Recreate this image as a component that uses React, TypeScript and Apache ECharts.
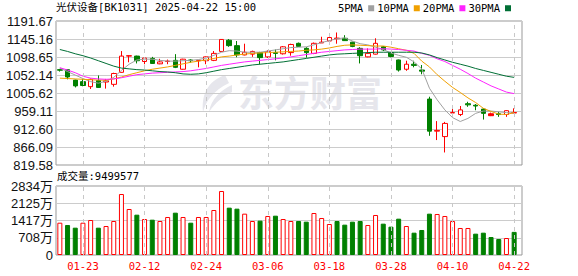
import React, { useEffect, useRef } from 'react';
import * as echarts from 'echarts';

// ---------- data ----------
const dates = ['01-20','01-21','01-22','01-23','01-24','01-27','02-05','02-06','02-07','02-10','02-11','02-12','02-13','02-14','02-17','02-18','02-19','02-20','02-21','02-24','02-25','02-26','02-27','02-28','03-03','03-04','03-05','03-06','03-07','03-10','03-11','03-12','03-13','03-14','03-17','03-18','03-19','03-20','03-21','03-24','03-25','03-26','03-27','03-28','03-31','04-01','04-02','04-03','04-07','04-08','04-09','04-10','04-11','04-14','04-15','04-16','04-17','04-18','04-21','04-22'];
const labelDates = ['01-23','02-12','02-24','03-06','03-18','03-28','04-10','04-22'];

const opens  = [1066,1066,1039,1035,1022,1038,1034,1028,1059,1101, 1101,1087,1095,1081,1087,1090,1067,1091,1089,1089, 1090,1113,1142,1128,1104,1106,1110,1099,1110,1107, 1110,1134,1121,1108,1135,1140,1146,1147,1137,1121, 1099,1106,1125,1110,1091,1067,1080,1065,990,907, 893,954,950,978,974,964,947,952,950,954];
const closes = [1064.5,1047,1024,1025,1041,1020,1037,1056,1101,1102, 1089,1096,1082,1086,1088,1072,1093,1089,1090,1099, 1108,1144,1128,1104,1111,1113,1097,1113,1108,1125, 1131,1126,1110,1134,1137,1149,1147.5,1141,1126,1102, 1108,1134,1117,1100,1065,1080,1077,1062,907,909, 927,955,962,975,972,953,952,950,960,955];
const lows   = [1061,1041,1020,1023,1016,1019,1017,1022,1058,1085, 1082,1080,1081,1080,1080,1070,1066,1084,1072,1080, 1088,1112,1125,1098,1103,1099,1080,1096,1090,1105, 1102,1125,1097,1106,1135,1130,1133,1140,1124,1082, 1098,1105,1114,1098,1061,1063,1072,1054,895,884, 852,954,946,970,961,937,946,944,944,954];
const highs  = [1068,1067,1040,1042,1043,1051,1042,1058,1114,1103, 1102,1097,1099,1094,1092,1106,1094,1093,1091,1100, 1114,1145,1145,1140,1133,1115,1112,1116,1118,1127, 1133,1136,1124,1136,1151,1151,1162,1155,1138,1124, 1121,1147,1127,1111,1092,1089,1089,1078,996,933, 931,970,972,983,977,966,955,957,961,966];

const ma5  = [1070,1061,1052,1043,1035,1031,1036,1046,1064,1080, 1091,1093,1093,1090,1088,1088,1089,1090,1092,1096, 1103,1111,1115,1114,1111,1111,1111,1114,1117,1120, 1123,1124,1125,1130,1136,1141,1146,1148,1140,1133, 1130,1124,1118,1109,1103,1098,1086,1068,1018,988, 962,942,932,940,953,959,959,957,955,954];
const ma10 = [1044,1043,1042,1041,1040,1039,1039,1042,1047,1053, 1058,1063,1067,1070,1073,1077,1081,1085,1088,1091, 1095,1099,1101,1104,1106,1108,1109,1110,1111,1112, 1113,1114,1116,1117,1119,1122,1126,1129,1130,1129, 1128,1127,1127,1124,1120,1116,1108,1088,1073,1053, 1036,1020,1007,993,981,966,958,951,950,955];
const ma20 = [1071,1065,1058,1049,1044,1042,1041,1042,1045,1049, 1053,1055,1057,1058,1059,1060,1061,1063,1066,1069, 1073,1077,1080,1083,1086,1088,1090,1092,1094,1096, 1099,1102,1105,1108,1111,1113,1115,1117,1118,1119, 1119,1119,1120,1119,1118,1116,1114,1108,1103,1094, 1087,1077,1067,1056,1044,1034,1024,1016,1008,1004];
const ma30 = [1118,1113,1107,1102,1096,1089,1082,1075,1070,1068, 1066,1065,1063,1061,1060,1058,1055,1054,1055,1058, 1062,1066,1069,1072,1075,1078,1080,1082,1084,1086, 1089,1092,1095,1098,1101,1104,1106,1107,1108,1109, 1110,1111,1111,1111,1111,1111,1111,1109,1104,1097, 1091,1085,1080,1075,1069,1064,1059,1054,1049,1046];

// volume in 万
const volumes = [1327,1232,1122,1327,1437,1122,1191,1396,2505,1889, 1656,1478,1451,1396,1561,1738,1561,1327,1561,1561, 1848,2628,1944,1903,1698,1396,1410,1602,1615,1478, 1396,1396,1369,1725,1520,1273,1396,1246,1369,1396, 1232,1643,1287,1164,1492,1191,917,1027,1698,1684, 1602,1396,1109,1109,876,917,739,657,698,950];

const priceTicks = [819.58, 866.09, 912.60, 959.11, 1005.62, 1052.14, 1098.65, 1145.16, 1191.67];
const volTicks = [0, 708, 1417, 2125, 2834];
const volTickLabels = ['0', '708万', '1417万', '2125万', '2834万'];

const titleText = '光伏设备[BK1031] 2025-04-22 15:00';
const volumeText = '成交量:9499577';
const maNames = ['5PMA', '10PMA', '20PMA', '30PMA'];

// ---------- style ----------
const RED = '#ff0000';
const GREEN = '#008000';
const MA_COLORS = ['#a0a0a0', '#f0a000', '#ff22ff', '#006f35'];
const MONO = "'DejaVu Sans Mono', 'Noto Sans CJK SC', monospace";
const SANS = "'Liberation Sans', 'Noto Sans CJK SC', sans-serif";
const WM = '#e6e6ec';

const LOGO_D = 'M27 0 C13 5 3 16 5 37 C8 26 15 16 31 8 Z M34 10 C23 15 13 24 11 37 C17 28 25 21 34 17 Z';
echarts.graphic.registerShape('emLogo', echarts.graphic.extendPath(LOGO_D, {}) as any);

function nearestLabel(v: number, ticks: number[], labels?: string[], digits = 2) {
  let best = 0;
  for (let i = 1; i < ticks.length; i++) if (Math.abs(ticks[i] - v) < Math.abs(ticks[best] - v)) best = i;
  return labels ? labels[best] : ticks[best].toFixed(digits);
}

function buildOption() {
  const pMin = priceTicks[0];
  const pMax = priceTicks[priceTicks.length - 1];
  const pStep = (pMax - pMin) / (priceTicks.length - 1);
  const vMax = volTicks[volTicks.length - 1];
  const vStep = vMax / (volTicks.length - 1);

  const candleData = dates.map((_, i) => {
    const value = [opens[i], closes[i], lows[i], highs[i]];
    // up candle that still closed below the previous close is drawn filled
    if (i > 0 && closes[i] >= opens[i] && closes[i] < closes[i - 1]) {
      return { value, itemStyle: { color: RED } };
    }
    return value;
  });
  const volData = volumes.map((v, i) => {
    const up = i === 0 ? true : closes[i] >= closes[i - 1];
    return {
      value: v,
      itemStyle: up
        ? { color: '#ffffff', borderColor: RED, borderWidth: 1 }
        : { color: GREEN, borderColor: GREEN, borderWidth: 1 },
    };
  });

  const vLines = {
    silent: true,
    symbol: ['none', 'none'],
    label: { show: false },
    lineStyle: { color: '#c8c8c8', type: [4, 4], width: 1 },
    emphasis: { disabled: true },
    data: labelDates.map((d) => ({ xAxis: d })),
  };

  const mas = [ma5, ma10, ma20, ma30];

  return {
    animation: false,
    backgroundColor: '#ffffff',
    title: [
      { text: titleText, left: 56, top: 2, padding: 0, textStyle: { fontFamily: MONO, fontSize: 10.5, fontWeight: 'normal', color: '#000' } },
      { text: volumeText, left: 57, top: 171, padding: 0, textStyle: { fontFamily: MONO, fontSize: 10.5, fontWeight: 'normal', color: '#000' } },
    ],
    legend: {
      data: maNames,
      right: 67,
      top: 3,
      align: 'right',
      icon: 'rect',
      itemWidth: 6,
      itemHeight: 6,
      itemGap: 3,
      padding: 0,
      selectedMode: false,
      textStyle: { fontFamily: MONO, fontSize: 10.5, color: '#000' },
    },
    graphic: [
      { type: 'emLogo', x: 198, y: 75, z: -1, silent: true, style: { fill: WM } },
      { type: 'text', x: 238, y: 73, z: -1, silent: true, style: { text: '东方财富', fill: WM, fontSize: 36, fontWeight: 'bold', fontFamily: "'Noto Sans CJK SC'" } },
    ],
    grid: [
      { left: 56, top: 21, width: 466, height: 144, show: true, borderColor: '#999', borderWidth: 1, backgroundColor: 'transparent' },
      { left: 56, top: 21, width: 462, height: 144 },
      { left: 56, top: 186, width: 466, height: 69, show: true, borderColor: '#999', borderWidth: 1, backgroundColor: 'transparent' },
      { left: 56, top: 186, width: 462, height: 69 },
    ],
    xAxis: [
      { gridIndex: 0, type: 'category', data: dates, show: false },
      { gridIndex: 1, type: 'category', data: dates, axisLine: { show: false }, axisTick: { show: false }, axisLabel: { show: false }, splitLine: { show: false } },
      { gridIndex: 2, type: 'category', data: dates, show: false },
      {
        gridIndex: 3, type: 'category', data: dates,
        axisLine: { show: false }, axisTick: { show: false }, splitLine: { show: false },
        axisLabel: {
          show: true, color: RED, fontFamily: MONO, fontSize: 10.5, margin: 6,
          interval: (index: number) => labelDates.indexOf(dates[index]) >= 0,
        },
      },
    ],
    yAxis: [
      {
        gridIndex: 0, type: 'value', min: pMin, max: pMax, interval: pStep,
        axisLine: { show: false }, axisTick: { show: false },
        splitLine: { show: true, lineStyle: { color: '#cccccc', width: 1 } },
        axisLabel: { color: '#111', fontFamily: SANS, fontSize: 13, margin: 3, formatter: (v: number) => nearestLabel(v, priceTicks) },
      },
      { gridIndex: 1, type: 'value', min: pMin, max: pMax, show: false },
      {
        gridIndex: 2, type: 'value', min: 0, max: vMax, interval: vStep,
        axisLine: { show: false }, axisTick: { show: false },
        splitLine: { show: true, lineStyle: { color: '#cccccc', width: 1 } },
        axisLabel: { color: '#111', fontFamily: SANS, fontSize: 13, margin: 3, formatter: (v: number) => nearestLabel(v, volTicks, volTickLabels) },
      },
      { gridIndex: 3, type: 'value', min: 0, max: vMax, show: false },
    ],
    series: [
      {
        type: 'candlestick', name: 'K', xAxisIndex: 1, yAxisIndex: 1, data: candleData, barWidth: 5,
        itemStyle: { color: '#ffffff', color0: GREEN, borderColor: RED, borderColor0: GREEN, borderWidth: 1 },
        emphasis: { disabled: true },
        markLine: vLines,
      },
      ...mas.map((d, k) => ({
        type: 'line', name: maNames[k], xAxisIndex: 1, yAxisIndex: 1, data: d,
        symbol: 'none', showSymbol: false, smooth: false,
        lineStyle: { color: MA_COLORS[k], width: 1 },
        itemStyle: { color: MA_COLORS[k] },
        emphasis: { disabled: true },
      })),
      {
        type: 'bar', name: 'VOL', xAxisIndex: 3, yAxisIndex: 3, data: volData, barWidth: 5,
        emphasis: { disabled: true },
        markLine: vLines,
      },
    ],
  };
}

export default function App() {
  const ref = useRef<HTMLDivElement>(null);
  useEffect(() => {
    if (!ref.current) return;
    const chart = echarts.init(ref.current, null, { renderer: 'svg' });
    chart.setOption(buildOption() as any);
    return () => chart.dispose();
  }, []);
  return <div ref={ref} style={{ position: 'fixed', left: 0, top: 0, width: 578, height: 276 }} />;
}
